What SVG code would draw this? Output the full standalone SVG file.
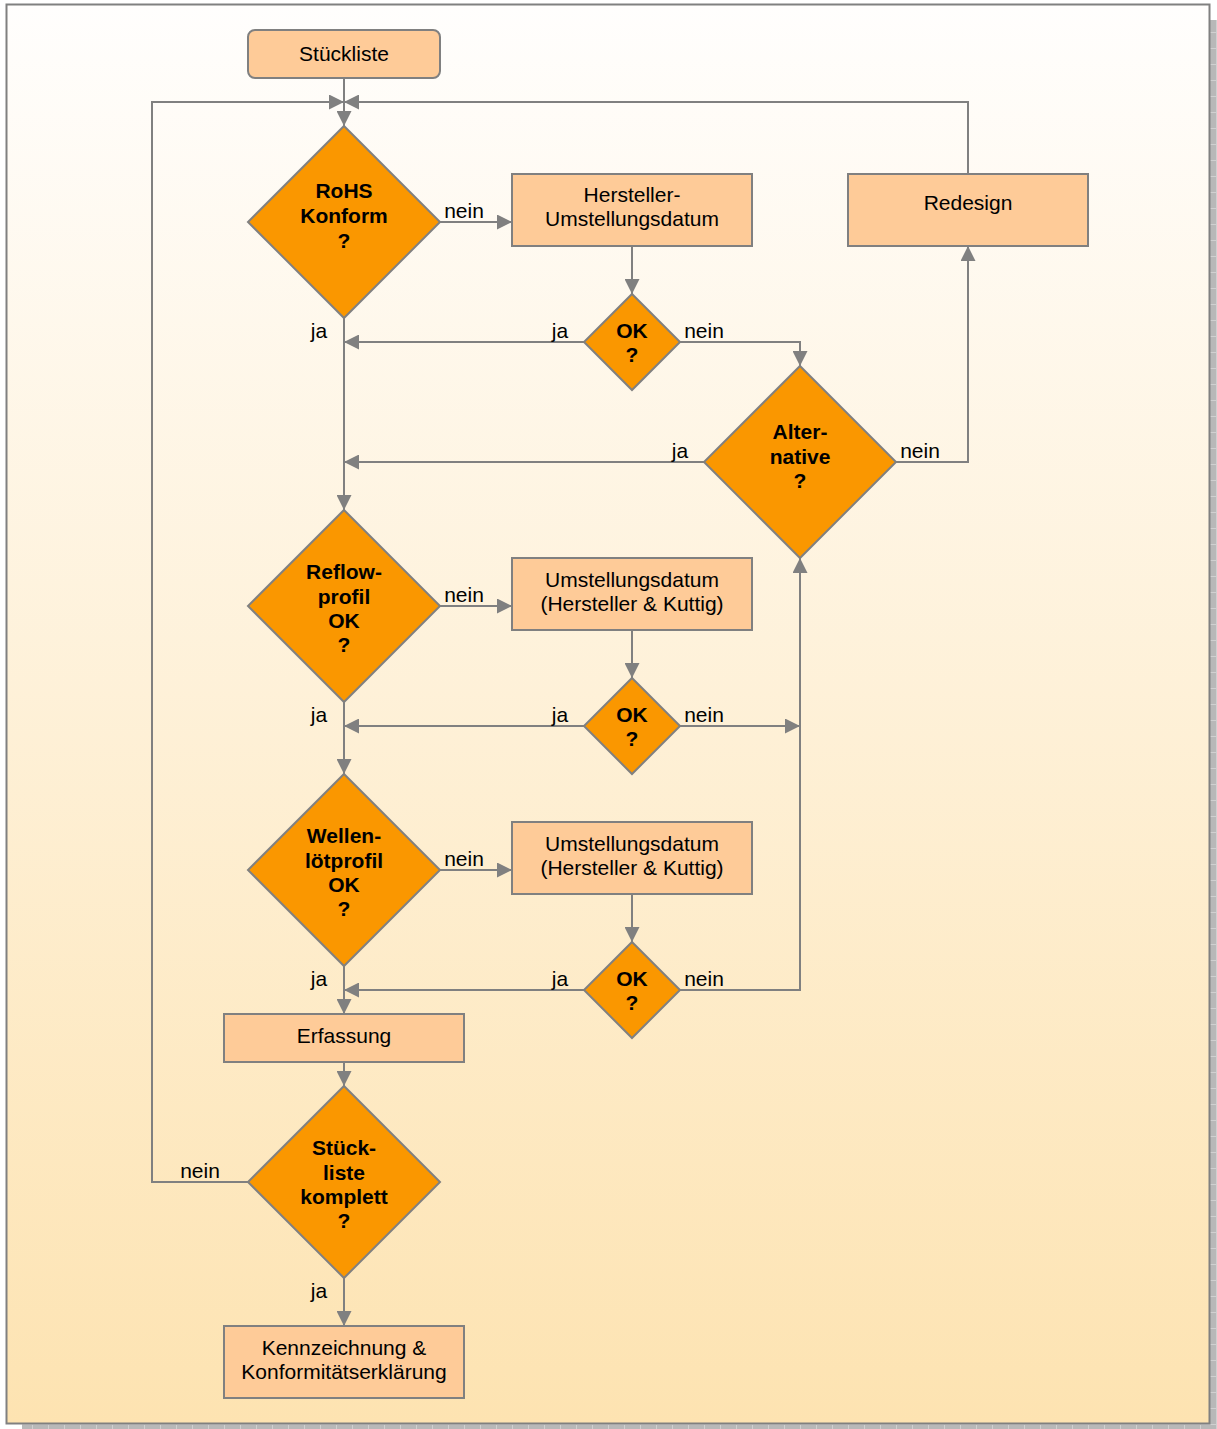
<svg xmlns="http://www.w3.org/2000/svg" width="1217" height="1429" viewBox="0 0 1217 1429">
<defs>
<linearGradient id="bg" x1="0" y1="0" x2="0" y2="1">
<stop offset="0" stop-color="#fffefd"/>
<stop offset="1" stop-color="#fde3b1"/>
</linearGradient>
<pattern id="shade" width="16" height="16" patternUnits="userSpaceOnUse">
<rect width="16" height="16" fill="#b8b8b8"/>
<path d="M0 0.5H16M0.5 0V16" stroke="#d0d0d0" stroke-width="1"/>
</pattern>
<marker id="ah" markerWidth="15" markerHeight="15" refX="15" refY="7.5" orient="auto" markerUnits="userSpaceOnUse">
<path d="M0 0L15 7.5L0 15Z" fill="#808080"/>
</marker>
<style>
.box{fill:#fecb98;stroke:#808080;stroke-width:2}
.dia{fill:#fa9700;stroke:#808080;stroke-width:2}
.t{font-family:"Liberation Sans",Arial,sans-serif;font-size:21px;fill:#000;text-anchor:middle}
.b{font-weight:bold}
.c{fill:none;stroke:#808080;stroke-width:2}
.a{marker-end:url(#ah)}
</style>
</defs>
<rect x="1210" y="20" width="7" height="1409" fill="url(#shade)"/>
<rect x="22" y="1424" width="1195" height="5" fill="url(#shade)"/>
<rect x="6.5" y="4.5" width="1203" height="1419" fill="url(#bg)" stroke="#808080" stroke-width="2"/>

<g id="connectors">
<path class="c a" d="M344 78V126"/>
<path class="c a" d="M248 1182H152V102H344"/>
<path class="c a" d="M968 174V102H344"/>
<path class="c a" d="M440 222H512"/>
<path class="c a" d="M632 246V294"/>
<path class="c a" d="M584 342H344"/>
<path class="c a" d="M680 342H800V366"/>
<path class="c a" d="M344 318V510"/>
<path class="c a" d="M704 462H344"/>
<path class="c a" d="M896 462H968V246"/>
<path class="c a" d="M440 606H512"/>
<path class="c a" d="M632 630V678"/>
<path class="c a" d="M584 726H344"/>
<path class="c a" d="M680 726H800"/>
<path class="c a" d="M344 702V774"/>
<path class="c a" d="M440 870H512"/>
<path class="c a" d="M632 894V942"/>
<path class="c a" d="M584 990H344"/>
<path class="c a" d="M680 990H800V558"/>
<path class="c a" d="M344 966V1014"/>
<path class="c a" d="M344 1062V1086"/>
<path class="c a" d="M344 1278V1326"/>
<g class="t">
<text x="464" y="218">nein</text>
<text x="319" y="338">ja</text>
<text x="560" y="338">ja</text>
<text x="704" y="338">nein</text>
<text x="680" y="458">ja</text>
<text x="920" y="458">nein</text>
<text x="464" y="602">nein</text>
<text x="319" y="722">ja</text>
<text x="560" y="722">ja</text>
<text x="704" y="722">nein</text>
<text x="464" y="866">nein</text>
<text x="319" y="986">ja</text>
<text x="560" y="986">ja</text>
<text x="704" y="986">nein</text>
<text x="200" y="1178">nein</text>
<text x="319" y="1298">ja</text>
</g>
</g>

<g id="stueckliste">
<rect class="box" x="248" y="30" width="192" height="48" rx="7"/>
<text class="t" x="344" y="61">Stückliste</text>
</g>
<g id="rohs">
<path class="dia" d="M344 126L440 222L344 318L248 222Z"/>
<text class="t b" x="344" y="198">RoHS</text>
<text class="t b" x="344" y="223">Konform</text>
<text class="t b" x="344" y="248">?</text>
</g>
<g id="hersteller">
<rect class="box" x="512" y="174" width="240" height="72"/>
<text class="t" x="632" y="202">Hersteller-</text>
<text class="t" x="632" y="226">Umstellungsdatum</text>
</g>
<g id="redesign">
<rect class="box" x="848" y="174" width="240" height="72"/>
<text class="t" x="968" y="210">Redesign</text>
</g>
<g id="ok1">
<path class="dia" d="M632 294L680 342L632 390L584 342Z"/>
<text class="t b" x="632" y="338">OK</text>
<text class="t b" x="632" y="362">?</text>
</g>
<g id="alternative">
<path class="dia" d="M800 366L896 462L800 558L704 462Z"/>
<text class="t b" x="800" y="439">Alter-</text>
<text class="t b" x="800" y="464">native</text>
<text class="t b" x="800" y="488">?</text>
</g>
<g id="reflow">
<path class="dia" d="M344 510L440 606L344 702L248 606Z"/>
<text class="t b" x="344" y="579">Reflow-</text>
<text class="t b" x="344" y="604">profil</text>
<text class="t b" x="344" y="628">OK</text>
<text class="t b" x="344" y="652">?</text>
</g>
<g id="umst1">
<rect class="box" x="512" y="558" width="240" height="72"/>
<text class="t" x="632" y="587">Umstellungsdatum</text>
<text class="t" x="632" y="611">(Hersteller &amp; Kuttig)</text>
</g>
<g id="ok2">
<path class="dia" d="M632 678L680 726L632 774L584 726Z"/>
<text class="t b" x="632" y="722">OK</text>
<text class="t b" x="632" y="746">?</text>
</g>
<g id="wellen">
<path class="dia" d="M344 774L440 870L344 966L248 870Z"/>
<text class="t b" x="344" y="843">Wellen-</text>
<text class="t b" x="344" y="868">lötprofil</text>
<text class="t b" x="344" y="892">OK</text>
<text class="t b" x="344" y="916">?</text>
</g>
<g id="umst2">
<rect class="box" x="512" y="822" width="240" height="72"/>
<text class="t" x="632" y="851">Umstellungsdatum</text>
<text class="t" x="632" y="875">(Hersteller &amp; Kuttig)</text>
</g>
<g id="ok3">
<path class="dia" d="M632 942L680 990L632 1038L584 990Z"/>
<text class="t b" x="632" y="986">OK</text>
<text class="t b" x="632" y="1010">?</text>
</g>
<g id="erfassung">
<rect class="box" x="224" y="1014" width="240" height="48"/>
<text class="t" x="344" y="1043">Erfassung</text>
</g>
<g id="komplett">
<path class="dia" d="M344 1086L440 1182L344 1278L248 1182Z"/>
<text class="t b" x="344" y="1155">Stück-</text>
<text class="t b" x="344" y="1180">liste</text>
<text class="t b" x="344" y="1204">komplett</text>
<text class="t b" x="344" y="1228">?</text>
</g>
<g id="kennzeichnung">
<rect class="box" x="224" y="1326" width="240" height="72"/>
<text class="t" x="344" y="1355">Kennzeichnung &amp;</text>
<text class="t" x="344" y="1379">Konformitätserklärung</text>
</g>
</svg>
